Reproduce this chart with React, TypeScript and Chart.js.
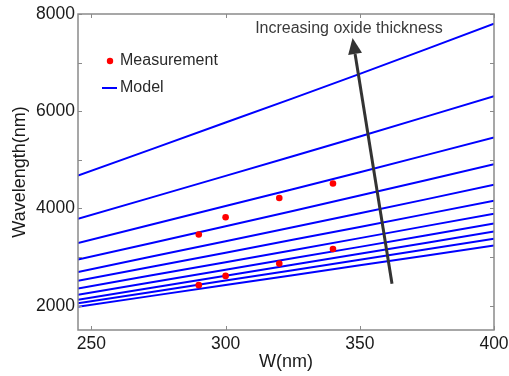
import { useEffect, useRef } from "react";
import { Chart, registerables } from "chart.js";

Chart.register(...registerables);

// ---- data ----
const W_NM = [245, 300, 350, 400];
const MODEL_1 = [4676, 5767, 6768, 7803];
const MODEL_2 = [3786, 4670, 5480, 6311];
const MODEL_3 = [3287, 4050, 4745, 5461];
const MODEL_4 = [2948, 3635, 4265, 4909];
const MODEL_5 = [2695, 3325, 3900, 4486];
const MODEL_6 = [2511, 3090, 3620, 4159];
const MODEL_7 = [2355, 2895, 3390, 3894];
const MODEL_8 = [2225, 2740, 3210, 3690];
const MODEL_9 = [2123, 2617, 3068, 3526];
const MODEL_10 = [2049, 2517, 2945, 3377];
const MODEL_11 = [1980, 2424, 2830, 3240];
const MODELS = [MODEL_1, MODEL_2, MODEL_3, MODEL_4, MODEL_5, MODEL_6, MODEL_7, MODEL_8, MODEL_9, MODEL_10, MODEL_11];

const MEAS_W = [290, 300, 320, 340, 290, 300, 320, 340];
const MEAS_WL = [3465, 3818, 4215, 4513, 2423, 2613, 2866, 3165];

const X_TICKS = [250, 300, 350, 400];
const Y_LABEL_TICKS = [2000, 4000, 6000, 8000];
const Y_TICK_MARKS = [2000, 3000, 4000, 5000, 6000, 7000, 8000];

const ARROW_FROM = { x: 362, y: 2450 };
const ARROW_TO = { x: 347.3, y: 7504 };
const ANNOT_TEXT = "Increasing oxide thickness";
const ANNOT_POS = { x: 311, y: 7690 };

const FONT = "'Liberation Sans', Arial, sans-serif";

const decor = {
  id: "decor",
  afterDraw(chart: any) {
    const { ctx, chartArea: a, scales } = chart;
    const x = scales.x;
    const y = scales.y;
    ctx.save();
    // box
    ctx.strokeStyle = "#8a8a8a";
    ctx.lineWidth = 1.5;
    ctx.strokeRect(a.left, a.top, a.right - a.left, a.bottom - a.top);
    // inward ticks
    ctx.lineWidth = 1;
    ctx.beginPath();
    for (const v of X_TICKS) {
      const px = Math.round(x.getPixelForValue(v)) + 0.5;
      ctx.moveTo(px, a.bottom);
      ctx.lineTo(px, a.bottom - 4);
      ctx.moveTo(px, a.top);
      ctx.lineTo(px, a.top + 4);
    }
    for (const v of Y_TICK_MARKS) {
      const py = Math.round(y.getPixelForValue(v)) + 0.5;
      ctx.moveTo(a.left, py);
      ctx.lineTo(a.left + 4, py);
      ctx.moveTo(a.right, py);
      ctx.lineTo(a.right - 4, py);
    }
    ctx.stroke();

    // arrow
    const x0 = x.getPixelForValue(ARROW_FROM.x);
    const y0 = y.getPixelForValue(ARROW_FROM.y);
    const x1 = x.getPixelForValue(ARROW_TO.x);
    const y1 = y.getPixelForValue(ARROW_TO.y);
    const ang = Math.atan2(y1 - y0, x1 - x0);
    const headLen = 16;
    const headHalf = 7;
    const bx = x1 - headLen * Math.cos(ang);
    const by = y1 - headLen * Math.sin(ang);
    ctx.strokeStyle = "#333333";
    ctx.fillStyle = "#333333";
    ctx.lineWidth = 3;
    ctx.beginPath();
    ctx.moveTo(x0, y0);
    ctx.lineTo(bx, by);
    ctx.stroke();
    ctx.beginPath();
    ctx.moveTo(x1, y1);
    ctx.lineTo(bx + headHalf * Math.sin(ang), by - headHalf * Math.cos(ang));
    ctx.lineTo(bx - headHalf * Math.sin(ang), by + headHalf * Math.cos(ang));
    ctx.closePath();
    ctx.fill();

    // annotation text
    ctx.font = `16px ${FONT}`;
    ctx.fillStyle = "#3a3a3a";
    ctx.textAlign = "left";
    ctx.textBaseline = "middle";
    ctx.fillText(ANNOT_TEXT, x.getPixelForValue(ANNOT_POS.x), y.getPixelForValue(ANNOT_POS.y));

    // legend
    const ds = chart.data.datasets;
    const lx = a.left + 24;
    const tx = a.left + 42;
    const ly1 = a.top + 47;
    const ly2 = a.top + 74;
    ctx.fillStyle = "#ff0000";
    ctx.beginPath();
    ctx.arc(lx + 8, ly1, 3.2, 0, Math.PI * 2);
    ctx.fill();
    ctx.strokeStyle = "#0000ff";
    ctx.lineWidth = 2;
    ctx.beginPath();
    ctx.moveTo(lx, ly2);
    ctx.lineTo(lx + 15, ly2);
    ctx.stroke();
    ctx.fillStyle = "#2a2a2a";
    ctx.font = `16px ${FONT}`;
    ctx.fillText(ds[0].label, tx, ly1);
    ctx.fillText(ds[1].label, tx, ly2);
    ctx.restore();
  },
};

export default function App() {
  const ref = useRef<HTMLCanvasElement | null>(null);
  useEffect(() => {
    if (!ref.current) return;
    const datasets: any[] = [
      {
        label: "Measurement",
        data: MEAS_W.map((w, i) => ({ x: w, y: MEAS_WL[i] })),
        showLine: false,
        pointRadius: 3.3,
        pointBackgroundColor: "#ff0000",
        pointBorderWidth: 0,
        backgroundColor: "#ff0000",
        borderColor: "#ff0000",
      },
      ...MODELS.map((m, i) => ({
        label: i === 0 ? "Model" : `Model ${i + 1}`,
        data: W_NM.map((w, j) => ({ x: w, y: m[j] })),
        showLine: true,
        borderColor: "#0000ff",
        borderWidth: 2,
        pointRadius: 0,
        tension: 0.3,
        fill: false,
      })),
    ];
    const chart = new Chart(ref.current, {
      type: "scatter",
      data: { datasets },
      options: {
        animation: false,
        responsive: false,
        layout: { padding: { top: 14, right: 15, left: 0, bottom: 0 } },
        plugins: { legend: { display: false }, tooltip: { enabled: false } },
        scales: {
          x: {
            type: "linear",
            min: 245,
            max: 400,
            grid: { display: false, drawTicks: false },
            border: { display: false },
            afterBuildTicks: (s: any) => {
              s.ticks = X_TICKS.map((v) => ({ value: v }));
            },
            afterFit: (s: any) => {
              s.height = 46;
              s.paddingLeft = 0;
              s.paddingRight = 0;
            },
            ticks: {
              padding: 4,
              color: "#1a1a1a",
              font: { family: FONT, size: 17.5 },
              maxRotation: 0,
              callback: (v: any) => String(v),
            },
            title: {
              display: true,
              text: "W(nm)",
              color: "#1a1a1a",
              font: { family: FONT, size: 18 },
              padding: { top: 0, bottom: 3.5 },
            },
          },
          y: {
            type: "linear",
            min: 1500,
            max: 8000,
            grid: { display: false, drawTicks: false },
            border: { display: false },
            afterBuildTicks: (s: any) => {
              s.ticks = Y_LABEL_TICKS.map((v) => ({ value: v }));
            },
            afterFit: (s: any) => {
              s.width = 78;
              s.paddingTop = 0;
              s.paddingBottom = 0;
            },
            ticks: {
              padding: 3,
              color: "#1a1a1a",
              font: { family: FONT, size: 17.5 },
              callback: (v: any) => String(v),
            },
            title: {
              display: true,
              text: "Wavelength(nm)",
              color: "#1a1a1a",
              font: { family: FONT, size: 18 },
              padding: { top: 9, bottom: 0 },
            },
          },
        },
      },
      plugins: [decor],
    });
    return () => chart.destroy();
  }, []);
  return (
    <div style={{ position: "absolute", left: 0, top: 0, width: 509, height: 376, background: "#fff" }}>
      <canvas ref={ref} width={509} height={376} style={{ display: "block" }} />
    </div>
  );
}
